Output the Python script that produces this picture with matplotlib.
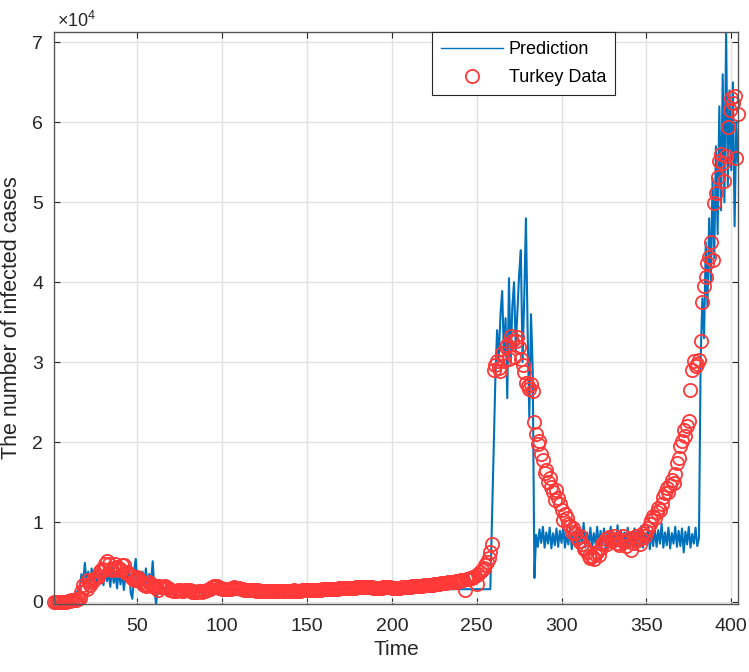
import numpy as np
import matplotlib
matplotlib.use('Agg')
import matplotlib.pyplot as plt
from matplotlib.ticker import FuncFormatter

plt.rcParams['font.family'] = ['Liberation Sans', 'DejaVu Sans']
plt.rcParams['mathtext.fontset'] = 'custom'
plt.rcParams['mathtext.rm'] = 'Liberation Sans'

# daily reported cases (Turkey), day 1 = first case
cases_mar = [1, 0, 1, 3, 1, 12, 29, 51, 93, 168, 311, 277, 289, 293, 343, 561, 1196, 2069, 1815, 1610, 2704]
cases_apr = [2148, 2456, 2786, 3013, 3135, 3148, 3892, 4117, 4056, 4747,
             5138, 4789, 4093, 4062, 4281, 4801, 4353, 3983, 4177, 4674,
             4611, 3683, 3716, 3522, 3261, 2957, 2731, 2892, 3136, 2815]
cases_may = [2500, 2300, 2100, 2000, 2150, 2450, 2250, 2100, 1900, 1850,
             1500, 1950, 1850, 1900, 1950, 1850, 1700, 1550, 1450, 1400,
             1400, 1380, 1550, 1500, 1400, 1350, 1550, 1550, 1450, 1500, 1300]
cases_jun = [1400, 1250, 1300, 1400, 1350, 1300, 1400, 1420, 1450, 1600,
             1650, 1850, 1950, 1900, 1950, 1800, 1700, 1650, 1650, 1600,
             1600, 1650, 1600, 1800, 1850, 1800, 1750, 1700, 1650, 1600]
cases_jul = [1500, 1480, 1550, 1520, 1480, 1470, 1450, 1420, 1450, 1420,
             1400, 1410, 1400, 1390, 1350, 1340, 1350, 1350, 1330, 1320,
             1320, 1370, 1360, 1340, 1330, 1350, 1350, 1370, 1380, 1450, 1420]
cases_aug = [1400, 1420, 1430, 1450, 1440, 1460, 1470, 1480, 1490, 1500,
             1500, 1520, 1530, 1540, 1560, 1570, 1580, 1590, 1600, 1610,
             1620, 1640, 1650, 1660, 1680, 1690, 1700, 1710, 1730, 1740, 1750]
cases_sep = [1760, 1780, 1790, 1810, 1820, 1840, 1850, 1870, 1880, 1870,
             1850, 1840, 1830, 1820, 1810, 1800, 1800, 1790, 1800, 1810,
             1820, 1830, 1840, 1830, 1820, 1810, 1800, 1800, 1790, 1800]
cases_oct = [1810, 1830, 1850, 1870, 1890, 1900, 1920, 1940, 1960, 1980,
             2000, 2020, 2040, 2060, 2080, 2100, 2120, 2140, 2160, 2180,
             2200, 2230, 2260, 2290, 2320, 2350, 2380, 2410, 2440, 2470, 2500]
cases_nov = [2530, 2560, 2600, 2640, 2680, 2720, 2760, 1450, 2850, 2900,
             2980, 3060, 3150, 3250, 2300, 3500, 3700, 3950, 4250, 4600,
             5000, 5500, 6200, 7300]
cases_wave2 = [29000, 29600, 30200, 29300, 28900, 31200, 30100, 31900, 32100, 30400,
               33300, 32600, 30600, 32700, 33200, 31900, 30400, 29600, 28800, 27400,
               27000, 26600, 27300, 26400]
cases_decline = [22500, 21000, 19800, 20200, 18500, 17700, 16100, 16500, 15000, 15500,
                 14400, 13800, 12700, 14000, 13000, 12200, 11500, 10200, 11000, 10500,
                 9800, 9500, 8800, 9200, 8600, 8000, 7600, 8200, 7200, 6600,
                 6800, 6200, 5800, 5500, 5700, 5400, 6000, 6300, 5900, 6800,
                 7200, 7500, 7900, 7300, 8100, 7700, 7600, 8300, 7900, 7400,
                 7100, 7800, 8200, 7500, 7000, 7600, 8000, 6500, 7400, 7900]
cases_wave3 = [8300, 7700, 7300, 8000, 8600, 8200, 8900, 9300, 9800, 10300,
               10800, 10500, 11200, 11800, 11500, 12300, 13100, 13600, 14200, 13800,
               14600, 15300, 14900, 16000, 17400, 18000, 19500, 20100, 21500, 20800,
               22000, 22600, 26500, 29000, 30200, 29500, 29800, 30300, 32700, 37500,
               39500, 40600, 42400, 43100, 45000, 42800, 49900, 51100, 53100, 55200,
               56000, 54900, 52700, 55800, 59400, 61500, 63000, 62400, 63300, 55600,
               61000]

# model prediction, one value per day
pred_start = [0, 50, 100, 150, 200, 250, 300, 400, 500, 600, 700, 850, 1000, 1200, 1400]
pred_wave1 = [1800, 3500, 2200, 4900, 2600, 3800, 2000, 4200, 2500, 3900,
              2300, 4400, 2800, 3600, 2100, 4500, 2600, 3700, 1900, 4300,
              2400, 3500, 1700, 4100, 2200, 3800, 1500, 3300, 2600, 4600,
              1200, 400, 3900, 5400, 1800, 3000, 1400, 3800, 2200, 4200,
              1600, 3500, 2400, 5100, 1500, -250]
pred_low = [1700, 1900, 1600, 1800, 1750, 1650, 1700, 1600, 1550, 1500,
            1500, 1480, 1600, 1550, 1500, 1450, 1550, 1550, 1500, 1500,
            1450, 1400, 1350, 1400, 1450, 1400, 1380, 1420, 1450, 1480,
            1550, 1600, 1700, 1750, 1720, 1750, 1680, 1620, 1600, 1580,
            1560, 1560, 1580, 1560, 1650, 1680, 1660, 1640, 1620, 1600,
            1580, 1550, 1540, 1560, 1550, 1530, 1520, 1500, 1510, 1500,
            1490, 1480, 1480, 1470, 1460, 1450, 1450, 1450, 1440, 1440,
            1440, 1450, 1450, 1450, 1450, 1460, 1460, 1470, 1470, 1480,
            1480, 1490, 1490, 1500, 1500, 1510, 1510, 1520, 1520, 1530,
            1530, 1540, 1540, 1550, 1550, 1560, 1560, 1570, 1570, 1580,
            1580, 1590, 1590, 1600, 1600, 1610, 1610, 1620, 1620, 1630,
            1630, 1640, 1640, 1650, 1650, 1660, 1660, 1660, 1670, 1670,
            1670, 1670, 1680, 1680, 1680, 1680, 1670, 1670, 1670, 1660,
            1660, 1660, 1650, 1650, 1650, 1650, 1640, 1640, 1640, 1640,
            1630, 1630, 1630, 1620, 1620, 1620, 1610, 1610, 1610, 1600,
            1600, 1600, 1600, 1600, 1600, 1600, 1600, 1600, 1600, 1600,
            1600, 1600, 1600, 1600, 1600, 1600, 1600, 1600, 1600, 1600,
            1600, 1600, 1600, 1600, 1600, 1600, 1600, 1600, 1600, 1600,
            1600, 1600, 1600, 1600, 1600, 1600, 1600, 1600, 1600, 1600,
            1600, 1600, 1600, 1600, 1600, 1600,
            1600, 10400, 19200]
pred_wave2 = [28000, 34000, 30500, 36000, 38900, 31000, 35500, 25500, 40500, 30000,
              37000, 40000, 31500, 36500, 41000, 44000, 30000, 38000, 48000, 34000,
              23000, 36000, 29000, 3000]
pred_plateau = [8400, 6900, 9100, 7400, 9400, 6800, 8700, 7300, 9300, 6700,
                8600, 7100, 9200, 6900, 8900, 7400, 9500, 6800, 8500, 7200,
                9300, 6600, 8800, 7100, 9200, 6900, 9000, 7300, 9900, 6800,
                8700, 7100, 9300, 6700, 8600, 7300, 9400, 6900, 8900, 7100,
                9200, 6500, 8800, 7200, 9400, 6800, 8500, 7300, 9600, 7000,
                9000, 6700, 8700, 7300, 9300, 6700, 8600, 7100, 9200, 6900,
                8900, 7400, 9500, 6800, 8500, 7200, 9400, 6600, 8800, 7000,
                9200, 6900, 9000, 7300, 9800, 6800, 8700, 7100, 9300, 6700,
                8600, 7300, 9400, 6900, 8900, 7000, 9200, 6200, 8800, 7200,
                9400, 6800, 8500, 7300, 9300, 7000, 8000]
pred_wave3 = [30500, 38000, 33000, 45000, 37000, 48000, 40000, 53000, 43000, 57000,
              46000, 62000, 49000, 66000, 50000, 71300, 52000, 64000, 54000, 65000,
              47000, 60000, 55000]

cases = np.array(cases_mar + cases_apr + cases_may + cases_jun + cases_jul + cases_aug
                 + cases_sep + cases_oct + cases_nov + cases_wave2 + cases_decline + cases_wave3)
pred = np.array(pred_start + pred_wave1 + pred_low + pred_wave2 + pred_plateau + pred_wave3)
t_cases = np.arange(1, len(cases) + 1)
t_pred = np.arange(1, len(pred) + 1)

fig = plt.figure(figsize=(7.49, 6.72), dpi=100)
ax = fig.add_axes([0.0725, 0.1012, 0.9128, 0.8512])

ax.plot(t_pred, pred, color='#0072BD', lw=1.5, label='Prediction')
ax.plot(t_cases, cases, 'o', mfc='none', mec='#ff3838', ms=9.5, mew=1.3,
        clip_on=False, label='Turkey Data')

ax.set_xlim(1, 404)
ax.set_ylim(-250, 71300)
ax.set_xticks(np.arange(50, 401, 50))
ax.set_yticks(np.arange(0, 70001, 10000))
ax.yaxis.set_major_formatter(FuncFormatter(lambda v, p: '%d' % round(v / 1e4)))

# matlab-like look
ax.grid(True, color='#e2e2e2', lw=1.0)
ax.set_axisbelow(True)
for s in ax.spines.values():
    s.set_color('#555555')
    s.set_linewidth(1.0)
ax.tick_params(direction='in', top=True, right=True, length=4, width=0.8,
               colors='#262626', labelsize=14)
ax.tick_params(axis='x', pad=10)
ax.tick_params(axis='y', pad=8)

ax.set_xlabel('Time', fontsize=15, color='#262626', labelpad=4)
ax.set_ylabel('The number of infected cases', fontsize=15.5, color='#262626')
ax.yaxis.set_label_coords(-0.047, 0.5)
ax.text(0.004, 1.008, r'$\times10^{4}$', transform=ax.transAxes, fontsize=13,
        color='#262626', ha='left', va='baseline')

leg = ax.legend(loc='upper left', bbox_to_anchor=(0.577, 0.952), bbox_transform=fig.transFigure,
                fancybox=False, framealpha=1, edgecolor='#262626', fontsize=13, numpoints=1,
                handlelength=3.4, handletextpad=0.35, borderpad=0.5, labelspacing=0.6,
                borderaxespad=0)
leg.get_frame().set_linewidth(0.8)
leg.get_lines()[0].set_linewidth(1.0)

fig.savefig('out.png', dpi=100)
